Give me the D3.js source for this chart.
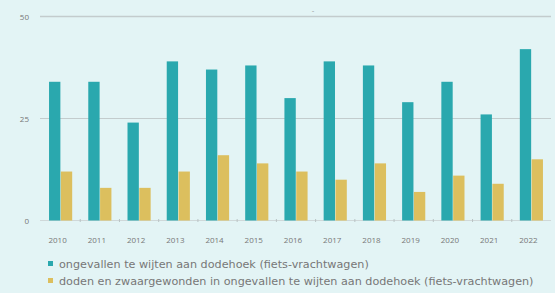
<!DOCTYPE html>
<html>
<head>
<meta charset="utf-8">
<script src="https://cdn.jsdelivr.net/npm/d3@7/dist/d3.min.js"></script>
<style>
  body { margin: 0; background: #e3f4f5; }
  svg { display: block; font-family: "Open Sans", sans-serif; }
  .tick_label { fill: #777; font-size: 8px; }
  .legend_label { fill: #777; font-size: 11.2px; font-family: "DejaVu Sans", sans-serif; }
</style>
</head>
<body>
<svg id="chart" width="555" height="293"></svg>
<script>
const years = ["2010","2011","2012","2013","2014","2015","2016","2017","2018","2019","2020","2021","2022"]
const ongevallen = [34, 34, 24, 39, 37, 38, 30, 39, 38, 29, 34, 26, 42]
const doden_zwaargewonden = [12, 8, 8, 12, 16, 14, 12, 10, 14, 7, 11, 9, 15]
const y_ticks = [0, 25, 50]
const legend_labels = [
	"ongevallen te wijten aan dodehoek (fiets-vrachtwagen)",
	"doden en zwaargewonden in ongevallen te wijten aan dodehoek (fiets-vrachtwagen)"
]

const width = 555, height = 293
const colours = ["#2aa8ae", "#dcbf5e"]
const svg = d3.select("#chart")

svg.append("rect").attr("width", width).attr("height", height).attr("fill", "#e3f4f5")

const x = d3.scaleBand().domain(years).range([41, 551]).paddingInner(0.41).paddingOuter(0.205)
const y = d3.scaleLinear().domain([0, 50]).range([220.5, 16.5])
const x_sub = d3.scaleBand().domain([0, 1]).range([0, x.bandwidth()]).paddingInner(0.04)

// grid
svg.append("g").selectAll("line.grid")
	.data(y_ticks).enter().append("line")
	.attr("x1", 40).attr("x2", 551)
	.attr("y1", d => y(d)).attr("y2", d => y(d))
	.attr("stroke", d => d == 0 ? "#cfd8d9" : "#c3cccd")
	.attr("stroke-width", d => d == 50 ? 1.4 : 1)

// little ticks between the year groups
const step = x.step()
svg.append("g").selectAll("line.xtick")
	.data(years.slice(1)).enter().append("line")
	.attr("x1", d => x(d) - step * 0.205).attr("x2", d => x(d) - step * 0.205)
	.attr("y1", y(0) - 1.5).attr("y2", y(0) + 1.5)
	.attr("stroke", "#b9c3c4")

svg.append("g").selectAll("text.y")
	.data(y_ticks).enter().append("text")
	.classed("tick_label", true)
	.attr("x", 29).attr("y", d => y(d) + 3)
	.attr("text-anchor", "end")
	.text(d => d)

// bars
const series = [ongevallen, doden_zwaargewonden]
series.forEach((values, s) => {
	svg.append("g").selectAll("rect")
		.data(values).enter().append("rect")
		.attr("x", (d, i) => x(years[i]) + x_sub(s))
		.attr("width", x_sub.bandwidth())
		.attr("y", d => y(d))
		.attr("height", d => y(0) - y(d))
		.attr("fill", colours[s])
})

// year labels sit a little left of the group centre
svg.append("g").selectAll("text.x")
	.data(years).enter().append("text")
	.classed("tick_label", true)
	.attr("x", d => x(d) + x.bandwidth() / 2 - 3)
	.attr("y", 243)
	.attr("text-anchor", "middle")
	.text(d => d)

svg.append("text").attr("x", 313).attr("y", 13).attr("fill", "#999")
	.attr("font-size", 8).attr("text-anchor", "middle").text("-")

// legend
const legend = svg.append("g")
legend.selectAll("rect")
	.data(legend_labels).enter().append("rect")
	.attr("x", 48).attr("y", (d, i) => 261 + i * 17)
	.attr("width", 5).attr("height", 5)
	.attr("fill", (d, i) => colours[i])
legend.selectAll("text")
	.data(legend_labels).enter().append("text")
	.classed("legend_label", true)
	.attr("x", 59).attr("y", (d, i) => 267.5 + i * 17)
	.text(d => d)
</script>
</body>
</html>
